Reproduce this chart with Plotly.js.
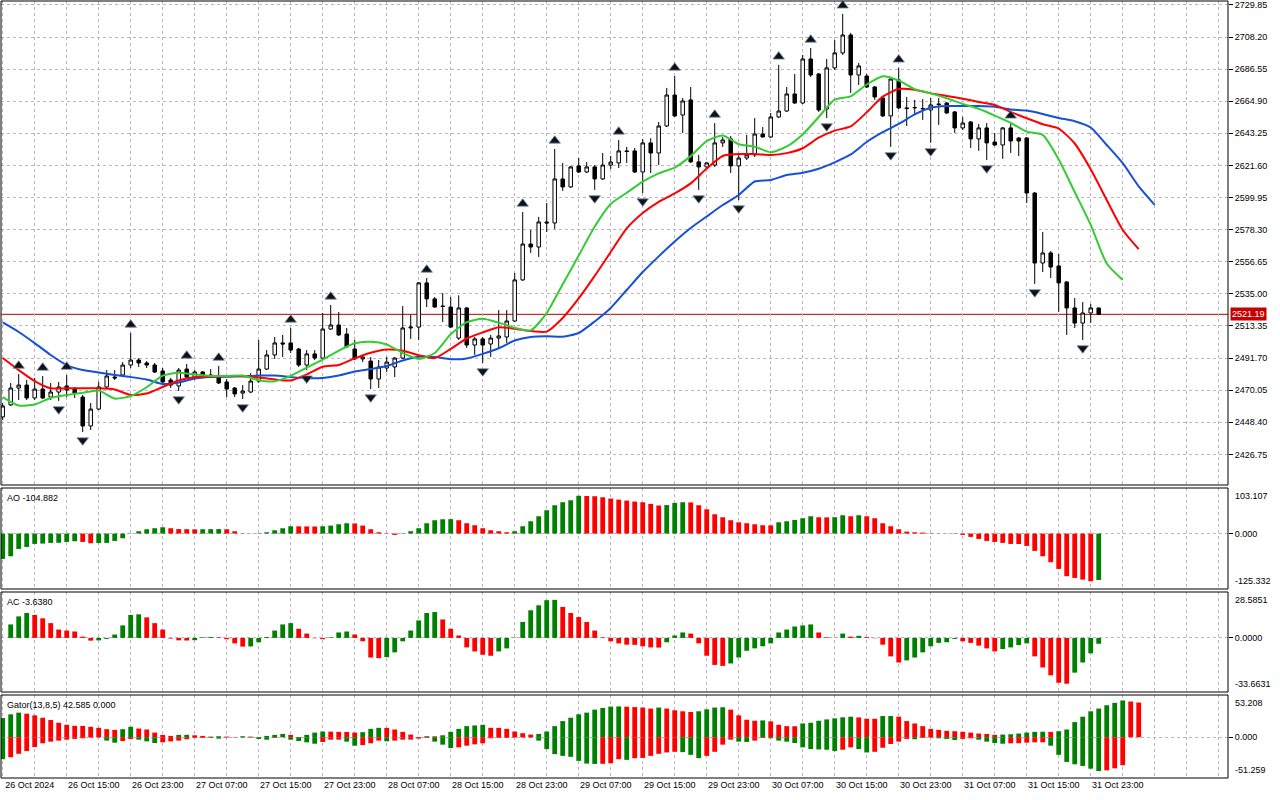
<!DOCTYPE html>
<html><head><meta charset="utf-8">
<script src="https://cdn.plot.ly/plotly-3.0.1.min.js"></script>
<style>html,body{margin:0;padding:0;background:#fff}#chart{width:1280px;height:800px}</style>
</head><body><div id="chart"></div>
<script>
// ---------- data ----------
const timeLabels = ["26 Oct 2024","26 Oct 15:00","26 Oct 23:00","27 Oct 07:00","27 Oct 15:00","27 Oct 23:00",
  "28 Oct 07:00","28 Oct 15:00","28 Oct 23:00","29 Oct 07:00","29 Oct 15:00","29 Oct 23:00",
  "30 Oct 07:00","30 Oct 15:00","30 Oct 23:00","31 Oct 07:00","31 Oct 15:00","31 Oct 23:00"];

const opens = [2452.0,2460.1,2471.5,2473.5,2464.8,2470.8,2465.4,2468.8,2472.9,2470.8,
2465.4,2445.9,2457.3,2472.2,2478.9,2480.3,2487.0,2490.4,2488.4,2487.0,
2483.0,2476.9,2472.9,2484.3,2478.9,2482.3,2480.3,2478.9,2475.6,2471.5,
2468.1,2468.8,2476.2,2484.3,2493.8,2501.9,2501.9,2497.8,2487.0,2494.5,
2491.7,2511.3,2514.0,2507.9,2497.8,2491.1,2489.7,2477.6,2485.0,2485.7,
2491.7,2512.0,2512.6,2542.4,2531.6,2526.8,2526.1,2505.2,2525.5,2500.5,
2504.6,2501.2,2505.2,2505.9,2516.7,2544.4,2568.6,2566.6,2583.5,2582.8,
2612.5,2607.1,2621.3,2617.2,2620.6,2612.5,2621.9,2623.3,2631.4,2631.4,
2617.2,2636.8,2630.0,2648.2,2669.1,2655.6,2665.8,2624.0,2620.6,2621.9,
2636.8,2639.5,2621.3,2626.6,2628.7,2642.8,2640.8,2654.3,2658.3,2669.8,
2663.7,2693.4,2683.3,2659.7,2687.4,2697.5,2709.6,2682.6,2681.9,2674.5,
2667.1,2655.0,2679.3,2660.4,2660.4,2659.7,2659.0,2663.1,2663.7,2657.7,
2646.9,2650.9,2639.5,2646.9,2637.4,2635.4,2646.9,2640.1,2640.1,2603.0,
2555.8,2562.6,2553.8,2543.0,2525.5,2515.3,2522.1,2525.5];

const highs = [2461.4,2474.9,2480.9,2476.9,2478.3,2479.6,2474.9,2475.6,2480.2,2472.2,
2466.8,2461.4,2475.6,2483.6,2483.6,2489.0,2508.6,2491.7,2489.7,2488.4,
2485.0,2478.3,2485.0,2487.7,2483.6,2483.0,2484.3,2486.3,2477.6,2472.2,
2473.5,2481.6,2503.9,2497.1,2505.9,2507.3,2512.0,2498.5,2497.1,2497.1,
2522.1,2527.5,2522.8,2512.0,2503.9,2493.8,2492.4,2490.4,2492.4,2492.4,
2526.8,2520.8,2543.0,2545.7,2532.9,2535.6,2532.9,2534.0,2526.1,2505.9,
2505.9,2507.3,2524.1,2524.1,2549.1,2590.2,2578.1,2586.9,2596.3,2632.7,
2623.3,2621.3,2626.6,2623.9,2621.9,2630.0,2628.0,2638.8,2634.1,2633.4,
2639.5,2640.0,2650.9,2673.9,2681.9,2667.1,2674.5,2628.7,2624.0,2650.2,
2640.8,2641.5,2628.7,2642.2,2653.6,2647.5,2657.0,2689.4,2674.5,2683.3,
2696.1,2700.8,2684.0,2693.4,2706.2,2723.8,2711.0,2690.7,2683.3,2675.2,
2667.8,2681.3,2687.4,2667.8,2665.8,2666.4,2667.1,2667.1,2664.4,2658.3,
2654.3,2651.6,2649.6,2650.2,2643.5,2647.5,2649.6,2640.8,2640.8,2603.7,
2576.7,2563.9,2561.9,2543.7,2532.2,2529.5,2528.2,2525.5];

const lows = [2449.9,2459.4,2463.4,2463.4,2463.4,2464.1,2463.4,2462.8,2465.4,2464.8,
2441.8,2443.2,2456.7,2471.5,2476.9,2478.9,2485.0,2485.7,2485.0,2481.6,
2474.9,2471.5,2469.5,2478.3,2476.9,2478.9,2478.3,2474.2,2465.4,2465.4,
2464.1,2468.1,2474.9,2483.6,2491.1,2492.4,2495.1,2485.7,2483.6,2490.4,
2491.1,2510.6,2506.6,2498.5,2490.4,2489.0,2470.8,2471.5,2482.3,2478.9,
2491.1,2504.6,2503.9,2526.1,2525.5,2516.0,2512.0,2503.9,2498.5,2493.8,
2488.4,2492.4,2497.8,2501.9,2516.0,2543.7,2562.6,2559.9,2576.7,2578.8,
2604.4,2606.4,2616.5,2616.5,2605.1,2611.8,2619.2,2619.9,2623.3,2616.5,
2603.0,2616.5,2621.9,2647.5,2654.3,2643.5,2623.3,2605.1,2619.9,2620.6,
2634.1,2616.5,2598.3,2625.3,2627.3,2640.5,2640.1,2653.6,2657.7,2663.1,
2663.1,2681.3,2657.7,2653.6,2686.0,2696.1,2670.5,2675.9,2673.9,2665.8,
2654.3,2634.1,2659.7,2648.2,2655.6,2652.3,2636.8,2648.9,2656.3,2643.5,
2645.5,2633.4,2631.4,2625.3,2634.7,2626.0,2630.0,2628.0,2596.3,2541.7,
2549.7,2545.7,2522.8,2507.3,2512.0,2503.9,2515.3,2520.8];

const closes = [2459.4,2471.5,2473.5,2464.8,2470.8,2464.8,2468.8,2472.2,2470.2,2468.1,
2445.9,2457.3,2472.2,2479.6,2478.3,2487.0,2490.4,2488.4,2487.0,2482.3,
2475.6,2473.5,2483.6,2478.9,2482.3,2480.3,2479.9,2474.9,2470.8,2467.5,
2469.5,2476.2,2484.3,2493.8,2501.9,2501.2,2497.1,2487.0,2494.5,2491.7,
2511.3,2514.0,2507.3,2499.2,2491.1,2492.4,2477.6,2485.7,2489.0,2491.7,
2512.0,2512.6,2542.4,2531.6,2526.1,2526.5,2512.6,2525.5,2500.5,2504.6,
2500.5,2505.2,2506.6,2516.7,2544.4,2568.6,2566.6,2583.5,2582.8,2612.5,
2607.1,2620.6,2617.2,2620.6,2612.5,2621.9,2623.9,2631.4,2631.0,2617.2,
2636.8,2630.0,2648.2,2669.1,2655.0,2665.1,2624.0,2620.6,2623.3,2636.8,
2638.8,2621.3,2626.6,2628.7,2642.8,2640.8,2654.3,2658.3,2669.8,2663.7,
2693.4,2682.6,2659.0,2687.4,2697.5,2709.6,2682.6,2688.7,2674.5,2667.8,
2655.0,2679.9,2660.4,2660.0,2660.7,2660.0,2662.4,2662.7,2657.0,2646.9,
2650.2,2639.5,2646.9,2636.8,2635.4,2646.9,2638.1,2638.1,2603.0,2555.8,
2562.6,2553.1,2542.4,2525.5,2515.3,2522.1,2525.5,2521.19];

// fractal bars (indices of candles)
const fractalUp = [2,5,8,16,23,27,36,41,53,65,69,77,84,89,97,101,105,112,126];
const fractalDown = [7,10,22,30,38,46,60,74,80,87,92,103,111,116,123,129,135];

// Alligator lines, read every second bar (shifted lines run past the last candle)
const jawLine = [2515.7,2509.3,2501.8,2493.8,2487.0,2483.6,2481.9,2480.3,2478.9,2477.2,
2474.2,2475.2,2477.9,2478.9,2479.1,2479.4,2479.9,2479.9,2478.9,2478.1,
2478.3,2479.9,2482.6,2484.3,2486.3,2490.1,2492.6,2492.4,2490.9,2491.4,
2494.5,2498.3,2503.5,2505.9,2506.4,2506.1,2508.6,2516.4,2525.5,2537.6,
2549.7,2560.3,2570.3,2579.4,2587.2,2594.9,2601.7,2610.8,2611.8,2615.2,
2616.7,2619.4,2623.7,2629.0,2637.4,2644.0,2649.6,2656.0,2660.5,2661.7,
2661.7,2661.7,2661.2,2659.4,2658.6,2656.3,2653.6,2651.4,2647.2,2635.4,
2623.1,2607.5,2595.0];
const teethLine = [2491.7,2483.6,2476.2,2471.3,2471.3,2471.3,2471.3,2470.5,2466.8,2467.8,
2472.2,2476.6,2478.7,2479.1,2479.5,2479.5,2478.6,2477.3,2476.6,2480.7,
2485.9,2487.0,2491.5,2495.3,2497.5,2496.7,2493.6,2491.7,2497.9,2504.9,
2509.0,2512.5,2511.5,2509.9,2509.5,2518.7,2531.9,2547.1,2563.2,2579.1,
2589.5,2597.0,2602.7,2609.5,2619.5,2628.0,2629.3,2629.3,2628.7,2629.9,
2633.2,2640.3,2645.1,2647.9,2657.4,2668.0,2673.1,2672.7,2670.2,2668.5,
2666.6,2664.4,2662.4,2657.7,2653.4,2649.4,2646.5,2636.4,2619.0,2598.3,
2578.1,2565.2];
const lipsLine = [2465.4,2459.7,2460.4,2464.8,2466.8,2468.3,2469.8,2464.4,2466.1,2472.0,
2479.9,2481.8,2480.6,2479.6,2479.6,2479.9,2476.8,2476.1,2479.7,2485.3,
2490.7,2496.7,2501.7,2502.7,2500.9,2495.1,2491.1,2495.1,2507.7,2515.9,
2518.2,2515.6,2512.1,2510.4,2522.1,2541.5,2560.8,2580.4,2595.6,2603.2,
2610.7,2616.3,2620.2,2627.9,2638.0,2641.8,2635.9,2634.2,2630.5,2634.4,
2642.5,2654.3,2666.0,2668.2,2676.2,2681.8,2678.9,2673.1,2670.2,2666.9,
2663.1,2659.8,2655.2,2650.3,2644.4,2642.2,2625.6,2603.7,2581.5,2555.5,
2544.4];

// Awesome Oscillator (g = rising bar, r = falling bar)
const aoValues = [-57.3,-51.3,-34.7,-30.2,-23.4,-22.6,-21.1,-20.8,-18.9,-17.3,
-18.9,-21.9,-21.5,-21.1,-16.6,-10.6,-0.5,5.3,9.8,12.1,
14.3,12.1,10.2,9.9,9.6,9.8,10.0,10.2,9.8,5.3,
0.75,0.3,0.75,3.0,7.5,12.1,16.6,16.4,16.2,16.0,
16.6,18.1,21.1,23.4,23.0,18.1,9.8,3.0,0.75,-3.0,
0.75,5.3,12.1,23.4,30.2,32.4,32.6,30.2,23.4,18.9,
12.1,7.5,5.3,3.0,5.3,16.6,27.9,39.2,52.8,64.1,
70.9,75.4,85.5,85.0,84.5,82.2,79.2,76.9,74.6,72.4,
70.9,67.1,63.5,64.5,69.4,70.9,70.5,64.1,55.0,43.7,
36.9,30.2,25.6,23.4,21.1,18.9,18.6,25.6,27.9,30.9,
34.7,39.2,36.9,36.7,37.0,41.5,39.2,41.5,39.2,34.7,
23.4,16.6,9.8,4.5,3.0,2.3,0.75,0.3,0.4,-0.75,
-3.0,-7.5,-12.1,-16.6,-18.9,-21.1,-23.4,-23.6,-27.9,-39.2,
-51.3,-64.8,-79.9,-96.5,-100.3,-104.1,-107.8,-104.882];
const aoDir = "gggggggggg"+"rrgggggggg"+"grrrrgggrr"+"rrgggggrrr"+"ggggrrrrrr"+
  "gggggggrrr"+"rrrrgggggg"+"gggrrrrrrr"+"rrrgggrrrr"+"rrrrrrrggg"+
  "ggrrggrgrr"+"rrrrrrrrgr"+"rrrrrrrrrr"+"rrrrrrrg";

// Accelerator Oscillator
const acValues = [null,8.4,13.4,15.5,14.3,12.2,9.2,5.2,4.6,4.0,
0.8,-1.7,-1.5,-0.6,2.1,7.8,14.3,14.7,12.8,9.2,
5.2,-0.4,-1.5,-1.6,-1.4,0.4,0.6,0.4,-0.8,-3.4,
-5.4,-5.3,-2.7,0.6,4.6,8.4,9.2,5.7,2.7,-0.2,
-0.8,0.4,3.4,4.0,2.1,-2.1,-12.2,-12.6,-12.0,-9.0,
-2.1,4.6,10.9,15.5,16.1,11.5,5.7,1.5,-5.9,-8.4,
-10.5,-11.1,-8.4,-6.5,0.2,9.9,17.2,20.3,23.5,23.7,
19.3,15.5,13.0,9.9,4.6,0.4,-2.1,-3.4,-4.2,-4.3,
-5.2,-5.9,-6.0,-2.7,1.5,3.4,2.7,-3.4,-11.1,-16.8,
-17.4,-15.9,-12.2,-8.0,-6.5,-5.2,-3.4,3.4,5.2,7.1,
7.8,8.4,3.4,0.4,0.1,2.7,0.8,1.3,0.5,-0.2,
-4.2,-11.5,-15.3,-14.0,-12.2,-9.0,-5.2,-3.1,-2.7,-0.6,
-2.1,-3.1,-4.8,-6.5,-8.4,-6.9,-5.9,-4.4,-3.4,-11.5,
-18.4,-23.3,-27.9,-28.5,-21.6,-15.3,-9.6,-3.638];
const acDir = "ggggrrrrrr"+"rrggggggrr"+"rrrrgggrrr"+"rggggggrrr"+"rgggrrrrgg"+
  "gggggrrrrr"+"rrgggggggg"+"rrrrrrrrrr"+"rrrgggrrrr"+"rggggggggg"+
  "ggrrrgrgrr"+"rrrggggggg"+"rrrrrggggr"+"rrrrgggg";

// Gator oscillator: upper histogram (above 0) and lower histogram (magnitudes, drawn below 0)
const gatorUpper = [24.2,28.9,31.0,29.7,27.6,24.6,21.7,18.3,15.7,14.4,
14.3,13.2,11.9,10.2,9.3,10.2,13.2,11.0,9.8,5.9,
3.0,1.7,3.0,3.1,2.5,1.7,0.85,1.3,0.85,0.4,
1.3,0.85,0.1,1.7,3.0,4.2,3.0,0.4,3.0,5.9,
7.2,7.1,6.8,6.7,5.9,6.4,10.6,11.9,11.8,9.8,
6.8,3.4,0.4,1.3,1.2,2.5,6.8,10.6,14.0,14.9,
15.7,11.9,11.8,10.6,7.2,5.1,3.4,4.2,7.2,14.0,
20.4,24.6,28.9,31.0,34.8,36.9,38.6,38.8,38.5,38.0,
37.4,36.1,37.4,36.1,34.0,32.7,31.8,32.7,35.2,37.4,
37.8,34.8,27.6,22.1,20.8,21.2,20.0,15.7,14.0,13.9,
17.4,18.3,20.8,22.5,23.8,25.1,25.9,25.0,23.4,23.3,
26.7,26.8,25.9,20.4,17.4,14.0,10.6,9.3,8.1,7.6,
6.8,5.9,4.7,4.2,3.0,3.4,3.8,4.7,5.9,6.8,
7.0,6.8,7.6,9.8,19.1,25.9,32.7,36.1,40.3,43.3,
46.3,45.0,43.7];
const gatorUpperDir = "gggrrrrrrr"+"rrrrrggrrr"+"rrggrrrgrr"+"grrgggrrgg"+"grrrrgggrr"+
  "rrrgrggggg"+"grrrrrrggg"+"ggggggggrr"+"rrgrrrrggg"+"grrrrgrrrr"+
  "gggggggrrr"+"ggrrrrrrrr"+"rrrrrggggg"+"grgggggggg"+"grr";
const gatorLower = [27.6,25.1,20.8,17.4,12.3,7.6,5.5,4.2,3.0,2.1,
1.3,0.4,0.3,4.2,6.8,4.7,2.1,3.0,5.1,7.2,
6.4,5.1,4.2,2.5,0.85,0.8,0.85,1.7,0.4,0.1,
0.4,0.45,2.1,3.0,0.85,0.1,3.0,4.7,6.4,8.1,
5.9,3.0,2.9,5.5,10.6,9.8,7.6,4.2,5.1,4.2,
3.0,2.9,1.7,0.85,5.5,9.3,13.6,12.7,10.6,8.9,
7.6,1.3,0.85,0.8,0.4,0.35,0.3,4.2,14.9,21.2,
23.4,24.6,29.7,33.1,33.5,33.4,32.7,27.6,28.4,26.3,
26.0,23.4,20.8,19.1,18.3,18.7,22.1,26.3,23.4,18.3,
9.3,3.0,5.5,5.9,4.2,0.85,1.3,4.2,5.5,7.2,
12.7,14.9,15.3,15.7,17.4,15.7,12.7,14.9,19.1,18.3,
13.2,8.5,5.5,2.1,2.5,0.85,0.4,1.3,2.1,3.4,
2.1,1.3,3.0,5.5,7.2,8.1,7.6,7.5,6.8,6.4,
6.3,10.6,22.1,31.0,34.0,36.1,39.5,42.5,41.6,39.1,
35.2];
const gatorLowerDir = "grrrrrrrrr"+"rrrggrrggg"+"rrrrrrggrr"+"ggggrrgggg"+"rrrggrrrgr"+
  "rrrrgggrrr"+"rrrrrrrggg"+"gggggrrrgr"+"rrrrrgggrr"+"rrggrrgggg"+
  "gggggrrggr"+"rrrrgrrggg"+"rrggggrrrr"+"rgggggggrr"+"r";

// axis tick values and pane scales
const priceTicks = [2729.85,2708.20,2686.55,2664.90,2643.25,2621.60,2599.95,2578.30,2556.65,2535.00,2513.35,2491.70,2470.05,2448.40,2426.75];
const priceRange = [2406.1, 2732.5];
const aoRange = [-125.332, 103.107];
const acRange = [-33.6631, 28.5851];
const gatorRange = [-51.259, 53.208];
const gatorTitle = "Gator(13,8,5) 42.585 0.000";

// ---------- drawing ----------
const FONT = "Liberation Sans, Arial, sans-serif";
const GREEN = "#008000", RED = "#ff0000", GRID = "#bdb3c2";
const n = closes.length;
const xs = Array.from({length:n}, (_, i) => i);
const seq = (len, start, step) => Array.from({length:len}, (_, i) => start + i*step);
const dirColors = s => s.split("").map(c => c === "g" ? GREEN : RED);
const last = closes[n-1];

const traces = [];
traces.push({type:"candlestick", x:xs, open:opens, high:highs, low:lows, close:closes,
  xaxis:"x", yaxis:"y", whiskerwidth:0, hoverinfo:"skip", showlegend:false,
  increasing:{line:{color:"#000", width:1}, fillcolor:"#ffffff"},
  decreasing:{line:{color:"#000", width:1}, fillcolor:"#000000"}});
const lineTrace = (vals, color) => ({type:"scatter", mode:"lines", x:seq(vals.length,0,2), y:vals,
  xaxis:"x", yaxis:"y", line:{color:color, width:2, shape:"spline", smoothing:0.6},
  hoverinfo:"skip", showlegend:false, cliponaxis:true});
traces.push(lineTrace(jawLine, "#1450d8"));
traces.push(lineTrace(teethLine, "#ff0000"));
traces.push(lineTrace(lipsLine, "#32cd32"));
const FRACT_OFF = 5.6;
traces.push({type:"scatter", mode:"markers", x:fractalUp, y:fractalUp.map(k => highs[k] + FRACT_OFF),
  xaxis:"x", yaxis:"y", marker:{symbol:"triangle-up", size:10, color:"#111", line:{color:"#6f8fb0", width:0.8}},
  hoverinfo:"skip", showlegend:false});
traces.push({type:"scatter", mode:"markers", x:fractalDown, y:fractalDown.map(k => lows[k] - FRACT_OFF),
  xaxis:"x", yaxis:"y", marker:{symbol:"triangle-down", size:10, color:"#111", line:{color:"#6f8fb0", width:0.8}},
  hoverinfo:"skip", showlegend:false});

traces.push({type:"bar", x:xs, y:aoValues, width:0.6, marker:{color:dirColors(aoDir), line:{width:0}},
  xaxis:"x", yaxis:"y2", hoverinfo:"skip", showlegend:false});
traces.push({type:"bar", x:xs, y:acValues, width:0.6, marker:{color:dirColors(acDir), line:{width:0}},
  xaxis:"x", yaxis:"y3", hoverinfo:"skip", showlegend:false});
traces.push({type:"bar", x:seq(gatorUpper.length,0,1), y:gatorUpper, width:0.6,
  marker:{color:dirColors(gatorUpperDir), line:{width:0}}, xaxis:"x", yaxis:"y4", hoverinfo:"skip", showlegend:false});
traces.push({type:"bar", x:seq(gatorLower.length,0,1), y:gatorLower.map(v => -v), width:0.6,
  marker:{color:dirColors(gatorLowerDir), line:{width:0}}, xaxis:"x", yaxis:"y4", hoverinfo:"skip", showlegend:false});

// x grid every 4 bars, labels every 8 bars
const gridVals = seq(39, 0, 4);
const gridText = gridVals.map(v => (v % 8 === 0 && v/8 < timeLabels.length) ? timeLabels[v/8] : "");

// pane domains (fractions of plot height)
const H = 777, BOT = 778;
const dom = (topPx, botPx) => [(BOT - botPx)/H, (BOT - topPx)/H];
const dMain = dom(1, 485), dAO = dom(488, 589), dAC = dom(592, 692), dG = dom(695, 778);

const tickFont = {family:FONT, size:9, color:"#000"};
const yBase = {side:"right", anchor:"x", zeroline:false, showline:false, ticks:"outside", ticklen:4,
  tickcolor:"#000", tickfont:tickFont, fixedrange:true, tickmode:"array"};

const layout = {
  width:1280, height:800, margin:{l:1, r:52, t:1, b:22},
  paper_bgcolor:"#fff", plot_bgcolor:"#fff", showlegend:false, hovermode:false,
  barmode:"overlay", boxgap:0.38,
  xaxis:{domain:[0,1], anchor:"y4", range:[-0.2125, 153.16], tickmode:"array", tickvals:gridVals, ticktext:gridText,
    showgrid:true, gridcolor:GRID, griddash:"3px,3px", gridwidth:1, ticks:"", tickfont:tickFont,
    ticklabelshift:27, zeroline:false, showline:false, rangeslider:{visible:false}, fixedrange:true},
  yaxis:Object.assign({}, yBase, {domain:dMain, range:priceRange, tickvals:priceTicks,
    ticktext:priceTicks.map(v => v.toFixed(2)), showgrid:true, gridcolor:GRID, griddash:"3px,3px"}),
  yaxis2:Object.assign({}, yBase, {domain:dAO, range:aoRange, tickvals:[0], ticktext:[(0).toFixed(3)],
    showgrid:true, gridcolor:GRID, griddash:"3px,3px"}),
  yaxis3:Object.assign({}, yBase, {domain:dAC, range:acRange, tickvals:[0], ticktext:[(0).toFixed(4)],
    showgrid:true, gridcolor:GRID, griddash:"3px,3px"}),
  yaxis4:Object.assign({}, yBase, {domain:dG, range:gatorRange, tickvals:[0], ticktext:[(0).toFixed(3)],
    showgrid:true, gridcolor:GRID, griddash:"3px,3px"}),
  shapes:[], annotations:[]
};

// pane frames
[dMain, dAO, dAC, dG].forEach(d => layout.shapes.push({type:"rect", xref:"paper", yref:"paper",
  x0:0, x1:1, y0:d[0], y1:d[1], line:{color:"#000", width:1}, fillcolor:"rgba(0,0,0,0)", layer:"above"}));
// current price line
layout.shapes.push({type:"line", xref:"paper", x0:0, x1:1, yref:"y", y0:last, y1:last,
  line:{color:"#b00000", width:1}, layer:"below"});

// current price label
layout.annotations.push({xref:"paper", x:1, xanchor:"left", xshift:2, yref:"y", y:last, yanchor:"middle",
  text:last.toFixed(2), showarrow:false, bgcolor:"#c80000", borderpad:1,
  font:{family:FONT, size:9, color:"#fff"}});
// indicator pane min/max labels
const edge = (axis, range, dec) => {
  layout.annotations.push({xref:"paper", x:1, xanchor:"left", xshift:5, yref:axis, y:range[1], yanchor:"top",
    yshift:-1, text:range[1].toFixed(dec), showarrow:false, font:tickFont});
  layout.annotations.push({xref:"paper", x:1, xanchor:"left", xshift:5, yref:axis, y:range[0], yanchor:"bottom",
    yshift:1, text:range[0].toFixed(dec), showarrow:false, font:tickFont});
};
edge("y2", aoRange, 3); edge("y3", acRange, 4); edge("y4", gatorRange, 3);
// pane titles
const title = (d, txt) => layout.annotations.push({xref:"paper", x:0, xanchor:"left", xshift:4,
  yref:"paper", y:d[1], yanchor:"top", yshift:-3, text:txt, showarrow:false,
  font:{family:FONT, size:9, color:"#000"}});
title(dAO, "AO " + aoValues[aoValues.length-1].toFixed(3));
title(dAC, "AC " + acValues[acValues.length-1].toFixed(4));
title(dG, gatorTitle);

Plotly.newPlot("chart", traces, layout, {displayModeBar:false, staticPlot:true});
</script></body></html>
